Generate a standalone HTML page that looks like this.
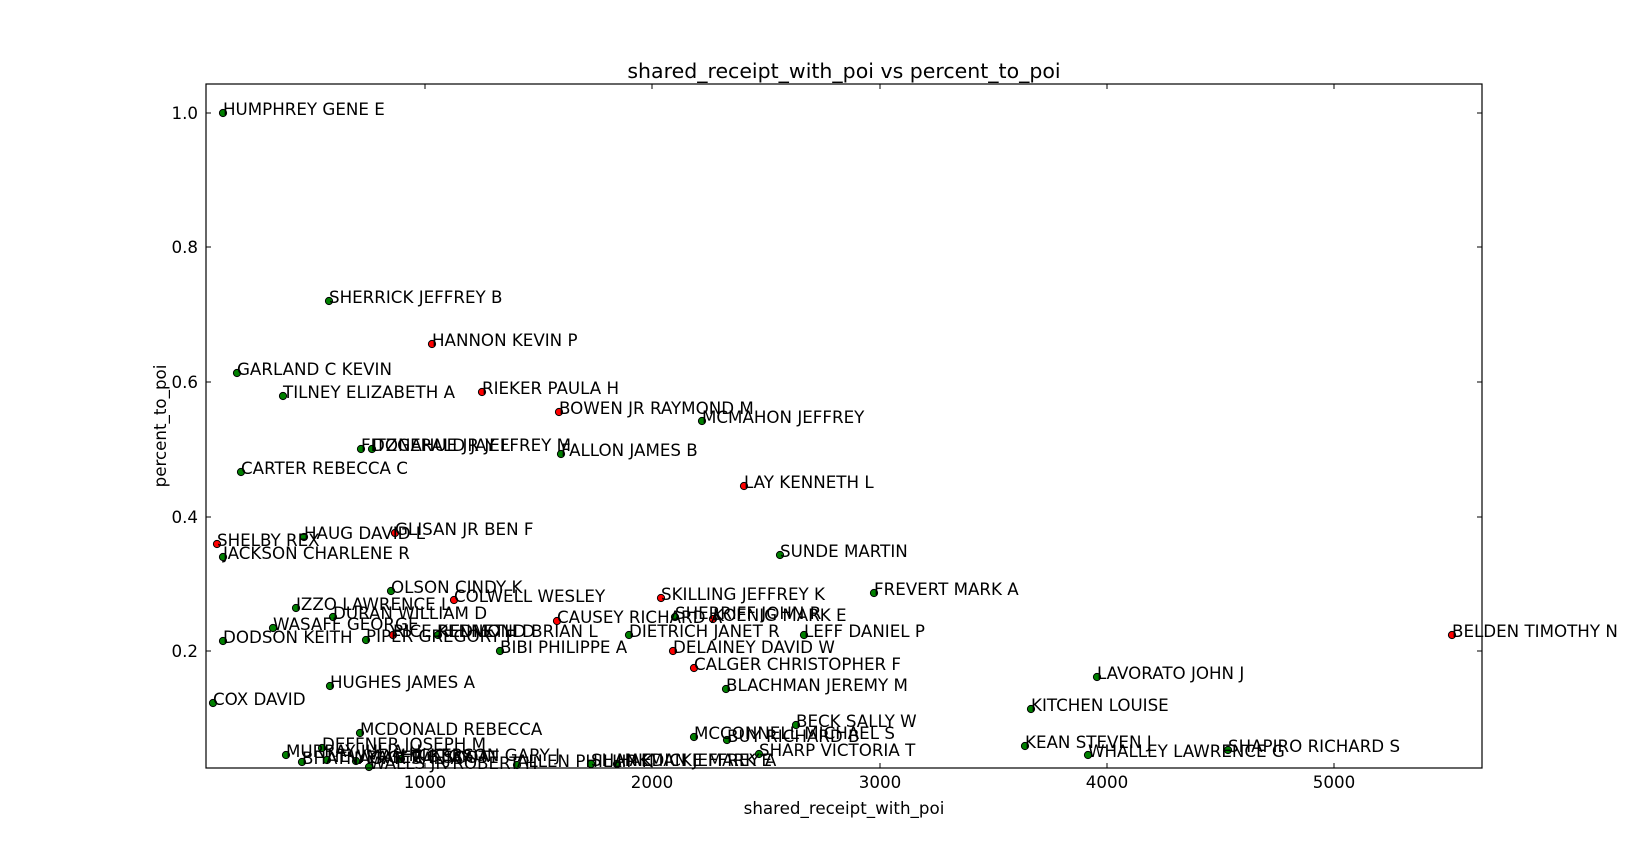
<!DOCTYPE html>
<html><head><meta charset="utf-8"><style>
html,body{margin:0;padding:0;background:#fff;}
svg{display:block;}
text{font-family:"DejaVu Sans","Liberation Sans",sans-serif;fill:#000;}
.l{font-size:16.7px;}
.g{fill:#008000;stroke:#000;stroke-width:1;}
.r{fill:#ff0000;stroke:#000;stroke-width:1;}
</style></head><body>
<svg width="1646" height="853" viewBox="0 0 1646 853" xmlns="http://www.w3.org/2000/svg">
<rect x="0" y="0" width="1646" height="853" fill="#fff"/>
<text x="844" y="78" font-size="20.5" text-anchor="middle">shared_receipt_with_poi vs percent_to_poi</text>
<g>
<circle class="g" cx="223" cy="113" r="3.6"/>
<circle class="g" cx="329" cy="301" r="3.6"/>
<circle class="r" cx="432" cy="344" r="3.6"/>
<circle class="g" cx="237" cy="373" r="3.6"/>
<circle class="g" cx="283" cy="396" r="3.6"/>
<circle class="r" cx="482" cy="392" r="3.6"/>
<circle class="r" cx="559" cy="412" r="3.6"/>
<circle class="g" cx="702" cy="421" r="3.6"/>
<circle class="g" cx="361" cy="449" r="3.6"/>
<circle class="g" cx="372" cy="449" r="3.6"/>
<circle class="g" cx="561" cy="454" r="3.6"/>
<circle class="g" cx="241" cy="472" r="3.6"/>
<circle class="r" cx="744" cy="486" r="3.6"/>
<circle class="r" cx="395" cy="533" r="3.6"/>
<circle class="g" cx="304" cy="537" r="3.6"/>
<circle class="r" cx="217" cy="544" r="3.6"/>
<circle class="g" cx="223" cy="557" r="3.6"/>
<circle class="g" cx="780" cy="555" r="3.6"/>
<circle class="g" cx="391" cy="591" r="3.6"/>
<circle class="r" cx="454" cy="600" r="3.6"/>
<circle class="g" cx="296" cy="608" r="3.6"/>
<circle class="g" cx="333" cy="617" r="3.6"/>
<circle class="g" cx="273" cy="628" r="3.6"/>
<circle class="g" cx="223" cy="641" r="3.6"/>
<circle class="g" cx="366" cy="640" r="3.6"/>
<circle class="r" cx="393" cy="635" r="3.6"/>
<circle class="g" cx="438" cy="635" r="3.6"/>
<circle class="r" cx="557" cy="621" r="3.6"/>
<circle class="g" cx="675" cy="617" r="3.6"/>
<circle class="r" cx="713" cy="619" r="3.6"/>
<circle class="r" cx="661" cy="598" r="3.6"/>
<circle class="g" cx="874" cy="593" r="3.6"/>
<circle class="g" cx="629" cy="635" r="3.6"/>
<circle class="g" cx="804" cy="635" r="3.6"/>
<circle class="r" cx="673" cy="651" r="3.6"/>
<circle class="r" cx="694" cy="668" r="3.6"/>
<circle class="g" cx="726" cy="689" r="3.6"/>
<circle class="g" cx="500" cy="651" r="3.6"/>
<circle class="r" cx="1452" cy="635" r="3.6"/>
<circle class="g" cx="1097" cy="677" r="3.6"/>
<circle class="g" cx="1031" cy="709" r="3.6"/>
<circle class="g" cx="330" cy="686" r="3.6"/>
<circle class="g" cx="213" cy="703" r="3.6"/>
<circle class="g" cx="796" cy="725" r="3.6"/>
<circle class="g" cx="694" cy="737" r="3.6"/>
<circle class="g" cx="727" cy="740" r="3.6"/>
<circle class="g" cx="759" cy="754" r="3.6"/>
<circle class="g" cx="1025" cy="746" r="3.6"/>
<circle class="g" cx="1088" cy="755" r="3.6"/>
<circle class="g" cx="1228" cy="750" r="3.6"/>
<circle class="g" cx="360" cy="733" r="3.6"/>
<circle class="g" cx="286" cy="755" r="3.6"/>
<circle class="g" cx="302" cy="762" r="3.6"/>
<circle class="g" cx="322" cy="748" r="3.6"/>
<circle class="g" cx="327" cy="760" r="3.6"/>
<circle class="g" cx="356" cy="761" r="3.6"/>
<circle class="g" cx="369" cy="767" r="3.6"/>
<circle class="g" cx="401" cy="759" r="3.6"/>
<circle class="g" cx="517" cy="765" r="3.6"/>
<circle class="g" cx="591" cy="764" r="3.6"/>
<circle class="g" cx="617" cy="764" r="3.6"/>
</g>
<g class="l">
<text x="223" y="115">HUMPHREY GENE E</text>
<text x="329" y="303">SHERRICK JEFFREY B</text>
<text x="432" y="346">HANNON KEVIN P</text>
<text x="237" y="375">GARLAND C KEVIN</text>
<text x="283" y="398">TILNEY ELIZABETH A</text>
<text x="482" y="394">RIEKER PAULA H</text>
<text x="559" y="414">BOWEN JR RAYMOND M</text>
<text x="702" y="423">MCMAHON JEFFREY</text>
<text x="361" y="451">FITZGERALD JAY L</text>
<text x="372" y="451">DONAHUE JR JEFFREY M</text>
<text x="561" y="456">FALLON JAMES B</text>
<text x="241" y="474">CARTER REBECCA C</text>
<text x="744" y="488">LAY KENNETH L</text>
<text x="395" y="535">GLISAN JR BEN F</text>
<text x="304" y="539">HAUG DAVID L</text>
<text x="217" y="546">SHELBY REX</text>
<text x="223" y="559">JACKSON CHARLENE R</text>
<text x="780" y="557">SUNDE MARTIN</text>
<text x="391" y="593">OLSON CINDY K</text>
<text x="454" y="602">COLWELL WESLEY</text>
<text x="296" y="610">IZZO LAWRENCE L</text>
<text x="333" y="619">DURAN WILLIAM D</text>
<text x="273" y="630">WASAFF GEORGE</text>
<text x="223" y="643">DODSON KEITH</text>
<text x="366" y="642">PIPER GREGORY F</text>
<text x="393" y="637">RICE KENNETH D</text>
<text x="438" y="637">REDMOND BRIAN L</text>
<text x="557" y="623">CAUSEY RICHARD A</text>
<text x="675" y="619">SHERRIFF JOHN R</text>
<text x="713" y="621">KOENIG MARK E</text>
<text x="661" y="600">SKILLING JEFFREY K</text>
<text x="874" y="595">FREVERT MARK A</text>
<text x="629" y="637">DIETRICH JANET R</text>
<text x="804" y="637">LEFF DANIEL P</text>
<text x="673" y="653">DELAINEY DAVID W</text>
<text x="694" y="670">CALGER CHRISTOPHER F</text>
<text x="726" y="691">BLACHMAN JEREMY M</text>
<text x="500" y="653">BIBI PHILIPPE A</text>
<text x="1452" y="637">BELDEN TIMOTHY N</text>
<text x="1097" y="679">LAVORATO JOHN J</text>
<text x="1031" y="711">KITCHEN LOUISE</text>
<text x="330" y="688">HUGHES JAMES A</text>
<text x="213" y="705">COX DAVID</text>
<text x="796" y="727">BECK SALLY W</text>
<text x="694" y="739">MCCONNELL MICHAEL S</text>
<text x="727" y="742">BUY RICHARD B</text>
<text x="759" y="756">SHARP VICTORIA T</text>
<text x="1025" y="748">KEAN STEVEN J</text>
<text x="1088" y="757">WHALLEY LAWRENCE G</text>
<text x="1228" y="752">SHAPIRO RICHARD S</text>
<text x="360" y="735">MCDONALD REBECCA</text>
<text x="286" y="757">MURRAY JULIA H</text>
<text x="302" y="764">BHATNAGAR SANJAY</text>
<text x="322" y="750">DEFFNER JOSEPH M</text>
<text x="327" y="762">NEWMAN VICTORIA</text>
<text x="356" y="763">YEAGER F SCOTT</text>
<text x="369" y="769">WALLS JR ROBERT H</text>
<text x="401" y="761">HICKERSON GARY J</text>
<text x="517" y="767">ALLEN PHILLIP K</text>
<text x="591" y="766">SHANKMAN JEFFREY A</text>
<text x="617" y="766">HAEDICKE MARK E</text>
</g>
<rect x="206" y="84" width="1276" height="684" fill="none" stroke="#000" stroke-width="1.2"/>
<g stroke="#000" stroke-width="1">
<line x1="425" y1="768" x2="425" y2="763"/><line x1="425" y1="84" x2="425" y2="89"/>
<line x1="652" y1="768" x2="652" y2="763"/><line x1="652" y1="84" x2="652" y2="89"/>
<line x1="880" y1="768" x2="880" y2="763"/><line x1="880" y1="84" x2="880" y2="89"/>
<line x1="1107" y1="768" x2="1107" y2="763"/><line x1="1107" y1="84" x2="1107" y2="89"/>
<line x1="1334" y1="768" x2="1334" y2="763"/><line x1="1334" y1="84" x2="1334" y2="89"/>
<line x1="206" y1="651" x2="211" y2="651"/><line x1="1482" y1="651" x2="1477" y2="651"/>
<line x1="206" y1="517" x2="211" y2="517"/><line x1="1482" y1="517" x2="1477" y2="517"/>
<line x1="206" y1="382" x2="211" y2="382"/><line x1="1482" y1="382" x2="1477" y2="382"/>
<line x1="206" y1="247" x2="211" y2="247"/><line x1="1482" y1="247" x2="1477" y2="247"/>
<line x1="206" y1="113" x2="211" y2="113"/><line x1="1482" y1="113" x2="1477" y2="113"/>
</g>
<g font-size="16.7" text-anchor="middle">
<text x="425" y="788">1000</text>
<text x="652" y="788">2000</text>
<text x="880" y="788">3000</text>
<text x="1107" y="788">4000</text>
<text x="1334" y="788">5000</text>
</g>
<g font-size="16.7" text-anchor="end">
<text x="198" y="657">0.2</text>
<text x="198" y="523">0.4</text>
<text x="198" y="388">0.6</text>
<text x="198" y="253">0.8</text>
<text x="198" y="119">1.0</text>
</g>
<text x="844" y="814" font-size="16.7" text-anchor="middle">shared_receipt_with_poi</text>
<text x="0" y="0" font-size="16.7" text-anchor="middle" transform="translate(166,426) rotate(-90)">percent_to_poi</text>
</svg>
</body></html>
